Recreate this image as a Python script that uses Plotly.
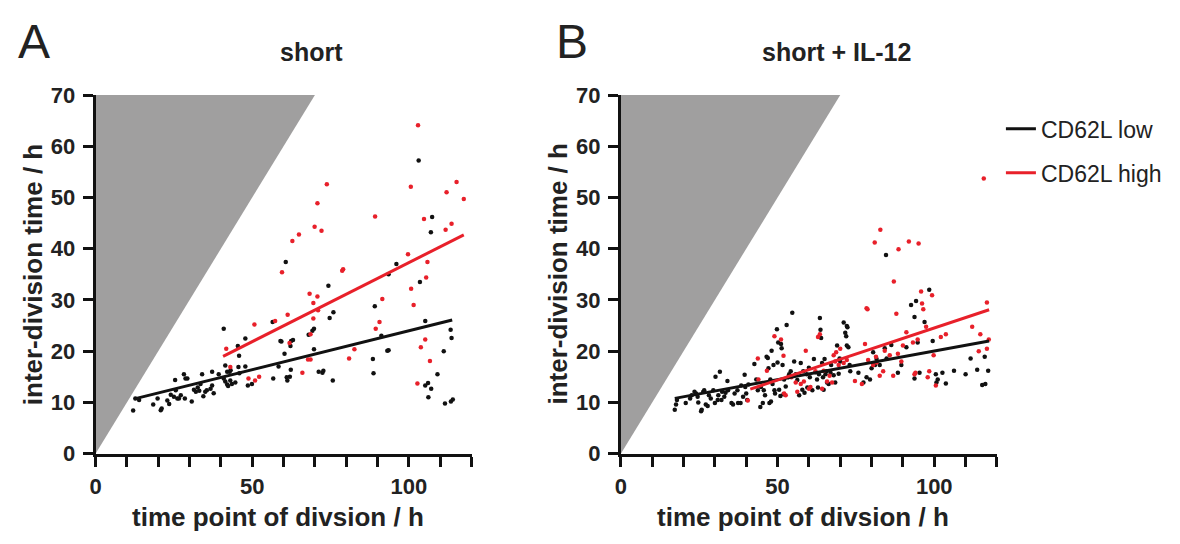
import plotly.graph_objects as go

# ---- panel A: "short" ----
a_low_x = [12.0, 13.9, 12.7, 18.4, 19.8, 20.8, 21.1, 22.9, 23.5, 24.0, 25.4, 25.0, 25.6, 26.1, 26.6,
           27.2, 28.2, 28.7, 29.3, 28.5, 30.7, 31.4, 32.0, 32.6, 33.1, 34.0, 33.5, 34.4, 35.0, 35.5,
           36.7, 37.2, 37.2, 37.7, 39.3, 40.9, 41.4, 42.0, 42.3, 40.9, 41.4, 42.0, 42.8, 43.1, 43.0,
           43.5, 44.6, 45.4, 45.6, 45.8, 45.9, 47.8, 47.8, 48.6, 49.9, 56.5, 56.7,
           103.1, 107.4, 107.0, 60.7, 96.0, 93.5, 103.5, 74.3, 89.1, 75.9, 74.7, 69.7, 69.2, 68.0,
           59.0, 59.3, 62.4, 63.0, 62.2, 60.3, 69.7, 91.2, 93.1, 93.5, 105.2, 113.3, 113.6, 111.1,
           88.5, 58.4, 61.0, 62.0, 61.2, 62.3, 71.2, 72.4, 72.7, 75.7, 88.7, 109.1, 105.2, 106.1,
           107.1, 106.2, 111.5, 113.4, 114.0]
a_low_y = [8.45, 10.5, 10.8, 9.6, 10.8, 8.5, 8.8, 10.4, 9.7, 11.5, 14.4, 11.1, 12.4, 10.8, 10.8,
           11.4, 15.5, 14.7, 14.7, 10.8, 10.2, 12.5, 12.1, 12.9, 12.3, 15.5, 13.6, 11.2, 12.1, 12.4,
           12.7, 13.3, 16.0, 11.8, 15.5, 14.7, 14.1, 13.5, 13.2, 24.4, 17.2, 16.0, 16.0, 16.3, 14.3,
           13.6, 13.9, 21.0, 16.9, 19.1, 15.7, 22.5, 17.0, 13.3, 13.6, 25.7, 14.7,
           57.2, 46.2, 43.2, 37.4, 37.0, 35.0, 33.5, 32.8, 28.8, 27.6, 26.5, 24.4, 24.0, 23.2,
           22.0, 21.9, 22.0, 22.2, 21.0, 19.5, 20.4, 23.0, 20.1, 20.2, 25.9, 24.2, 22.6, 20.0,
           18.5, 17.0, 14.9, 15.0, 14.3, 16.4, 16.0, 15.8, 16.2, 14.3, 15.7, 15.5, 13.3, 13.8,
           12.7, 11.0, 9.8, 10.2, 10.6]
a_high_x = [50.7, 41.7, 43.0, 48.8, 50.9, 52.2, 102.9, 73.8, 70.8, 69.9, 72.1, 64.9, 62.8, 59.5,
            61.3, 57.3, 89.2, 100.6, 104.8, 111.7, 113.6, 112.0, 115.2, 117.5, 99.7, 105.9, 105.5,
            100.7, 101.5, 91.5, 90.6, 89.4, 79.0, 78.7, 68.3, 70.8, 69.5, 71.0, 69.5, 68.6, 61.9,
            67.8, 68.6, 66.0, 82.6, 80.9, 105.2, 103.8, 106.7, 102.7]
a_high_y = [25.2, 20.5, 16.9, 14.7, 14.3, 15.0, 64.1, 52.6, 48.9, 44.3, 43.5, 42.8, 41.5, 35.4,
            27.1, 25.9, 46.3, 52.1, 45.8, 43.7, 44.9, 51.0, 53.0, 49.7, 38.9, 37.4, 34.4,
            32.2, 29.0, 30.2, 25.7, 24.4, 36.0, 35.7, 31.2, 30.7, 29.4, 28.0, 26.4, 23.3, 21.6,
            18.4, 18.4, 15.8, 20.4, 18.6, 22.3, 20.8, 18.1, 13.7]
a_fit_low_x, a_fit_low_y = [12.4, 113.8], [10.7, 26.1]
a_fit_high_x, a_fit_high_y = [40.7, 117.5], [19.0, 42.7]

# ---- panel B: "short + IL-12" ----
b_low_x = [17.2, 17.6, 17.9, 20.7, 22.1, 22.6, 23.5, 24.0, 24.5, 24.7, 25.6, 25.8, 26.3, 26.6,
           27.1, 27.7, 28.1, 28.7, 29.5, 30.0, 30.2, 30.9, 31.1, 31.6, 32.1, 32.3, 33.0, 33.4,
           34.0, 34.2, 35.3, 35.8, 36.3, 37.2, 37.4, 38.2, 38.4, 39.0, 39.5, 39.7, 40.0, 40.3,
           40.7, 42.6, 43.2, 43.7, 44.5, 44.7, 45.3, 45.6, 46.0, 46.5, 46.9, 47.1, 47.4, 47.7,
           47.9, 48.1, 48.4, 48.7, 49.0, 49.2, 49.8, 50.0, 50.2, 50.5, 50.9, 51.1, 51.3, 51.6,
           51.9, 52.1, 52.6, 52.9, 53.4, 53.7, 54.2, 54.7, 55.3, 55.8, 56.3, 56.9, 57.4, 57.9,
           58.2, 58.6, 59.3, 59.5, 60.0, 60.3, 61.1, 61.6, 62.1, 62.6, 62.9, 63.2, 63.5, 63.7,
           63.9, 64.2, 64.5, 64.7, 65.0, 65.3, 65.6, 65.8, 66.3, 66.9, 67.1, 67.9, 68.4, 69.0,
           69.5, 69.8, 70.0, 71.1, 71.6, 71.9, 72.1, 72.3, 72.6, 72.1, 73.0, 73.2,
           75.8, 77.4, 78.4, 79.5, 80.0, 80.5, 81.1, 81.6, 82.6, 84.2, 84.8, 86.3, 88.4, 89.5,
           91.1, 92.6, 93.7, 94.2, 94.7, 95.3, 93.7, 96.9, 98.4, 99.5, 100.5, 101.1, 100.7,
           102.6, 103.7, 106.3, 110.0, 111.6, 113.7, 115.3, 116.3, 117.2, 116.1, 84.6]
b_low_y = [8.6, 9.6, 10.5, 9.9, 10.8, 11.4, 12.1, 11.75, 11.1, 10.0, 8.3, 8.6, 12.1, 12.4,
           9.6, 9.3, 11.4, 10.8, 12.4, 9.9, 15.0, 10.5, 11.4, 16.0, 10.5, 12.1, 11.1, 11.9,
           14.2, 12.4, 9.9, 9.6, 11.75, 12.4, 9.9, 9.9, 13.3, 11.1, 15.4, 13.0, 11.75, 10.5,
           13.5, 17.5, 14.5, 12.4, 9.1, 13.0, 9.9, 12.4, 11.4, 18.9, 18.7, 16.7, 9.9, 14.5,
           10.2, 20.1, 13.6, 17.3, 12.4, 11.75, 24.3, 17.8, 21.7, 12.5, 11.25, 21.4, 20.6, 17.3,
           11.6, 14.5, 13.1, 25.1, 14.9, 15.5, 16.1, 27.5, 18.0, 15.5, 14.4, 11.4, 17.7, 12.5,
           16.1, 11.9, 15.5, 12.9, 16.8, 14.9, 12.4, 18.5, 15.9, 14.5, 12.9, 15.5, 26.5, 24.2,
           22.6, 17.7, 14.9, 12.5, 18.5, 15.5, 16.1, 13.9, 13.6, 15.8, 17.3, 15.3, 13.9, 21.1,
           15.6, 18.6, 18.0, 25.6, 23.6, 22.9, 24.9, 24.7, 20.8, 21.1, 17.3, 16.1,
           15.8, 13.9, 14.9, 14.5, 16.7, 19.8, 17.3, 18.5, 17.3, 20.6, 18.6, 21.2, 15.8, 17.3,
           20.8, 29.0, 26.7, 29.8, 21.7, 15.8, 14.7, 25.7, 32.0, 22.0, 15.5, 14.5, 13.9,
           15.8, 13.7, 16.2, 15.5, 18.6, 16.4, 13.4, 13.6, 16.2, 18.9, 38.8]
b_high_x = [40.5, 43.7, 43.9, 46.6, 49.0, 51.1, 51.9, 52.1, 52.6, 54.4, 55.8, 56.3, 57.4, 58.4,
            59.0, 60.0, 60.5, 62.1, 62.9, 63.5, 64.2, 64.7, 65.8, 66.6, 67.4, 67.9, 68.4, 68.7,
            69.5, 70.0, 71.1, 72.1, 74.7, 76.9, 77.9, 78.4, 78.7, 78.9, 80.5, 81.4, 81.6, 82.6,
            83.7, 84.2, 85.8, 86.9, 87.1, 87.9, 88.4, 89.5, 90.0, 91.1, 93.2, 93.7, 94.0, 94.7,
            95.8, 96.1, 96.5, 97.4, 97.9, 98.4, 99.3, 99.8, 100.5, 102.1, 103.7, 112.1, 114.2,
            114.7, 116.8, 117.4, 116.8, 82.8, 81.0, 88.6, 91.9, 95.0, 115.8]
b_high_y = [10.4, 18.6, 14.5, 16.2, 22.9, 22.3, 19.1, 11.75, 11.4, 14.9, 13.9, 12.1, 13.6, 14.1,
            20.1, 12.7, 13.0, 16.1, 22.8, 23.3, 12.7, 16.2, 14.1, 15.2, 13.9, 19.2, 18.0, 19.8,
            17.3, 20.5, 17.7, 18.3, 14.2, 13.6, 21.4, 28.4, 28.2, 18.3, 17.3, 18.9, 17.8, 15.2,
            16.1, 20.1, 19.2, 15.2, 33.6, 27.3, 19.5, 18.0, 21.1, 23.7, 21.7, 15.5, 15.8, 22.3,
            31.65, 29.3, 28.2, 24.8, 14.9, 16.1, 30.9, 19.2, 13.3, 22.8, 23.3, 24.8, 20.0,
            23.3, 29.5, 22.3, 20.5, 43.7, 41.2, 39.9, 41.4, 41.0, 53.7]
b_fit_low_x, b_fit_low_y = [17.2, 117.5], [10.8, 22.0]
b_fit_high_x, b_fit_high_y = [41.3, 117.5], [12.6, 28.1]

# region where the inter-division time would exceed the division time point
excluded_x = [0, 0, 70, 0]
excluded_y = [0, 70, 70, 0]

panel_titles = ["short", "short + IL-12"]
panel_letters = ["A", "B"]
series_names = ["CD62L low", "CD62L high"]
x_title = "time point of divsion / h"
y_title = "inter-division time / h"
x_tick_vals = list(range(0, 121, 10))
x_tick_text = [f"<b>{v}</b>" if v % 50 == 0 else "" for v in x_tick_vals]
y_tick_vals = list(range(0, 71, 10))
y_tick_text = [f"<b>{v}</b>" for v in y_tick_vals]

BLACK = "#111111"
RED = "#e8202a"
GREY = "#a09f9f"
TEXT = "#222222"
FONT = "Arial, Liberation Sans, sans-serif"

fig = go.Figure()

panels = [
    (a_low_x, a_low_y, a_high_x, a_high_y, a_fit_low_x, a_fit_low_y, a_fit_high_x, a_fit_high_y),
    (b_low_x, b_low_y, b_high_x, b_high_y, b_fit_low_x, b_fit_low_y, b_fit_high_x, b_fit_high_y),
]
for i, (lx, ly, hx, hy, flx, fly, fhx, fhy) in enumerate(panels):
    xa = "x" if i == 0 else "x2"
    ya = "y" if i == 0 else "y2"
    fig.add_trace(go.Scatter(x=excluded_x, y=excluded_y, fill="toself", fillcolor=GREY,
                             mode="none", hoverinfo="skip", showlegend=False, xaxis=xa, yaxis=ya))
    fig.add_trace(go.Scatter(x=lx, y=ly, mode="markers", marker=dict(color=BLACK, size=4.5),
                             showlegend=False, xaxis=xa, yaxis=ya))
    fig.add_trace(go.Scatter(x=hx, y=hy, mode="markers", marker=dict(color=RED, size=4.5),
                             showlegend=False, xaxis=xa, yaxis=ya))
    fig.add_trace(go.Scatter(x=flx, y=fly, mode="lines", line=dict(color=BLACK, width=3),
                             name=series_names[0], legendgroup="low", showlegend=(i == 1),
                             xaxis=xa, yaxis=ya))
    fig.add_trace(go.Scatter(x=fhx, y=fhy, mode="lines", line=dict(color=RED, width=3),
                             name=series_names[1], legendgroup="high", showlegend=(i == 1),
                             xaxis=xa, yaxis=ya))

axis_common = dict(showline=True, linecolor=BLACK, linewidth=2.8, ticks="outside",
                   ticklen=10, tickwidth=2.6, tickcolor=BLACK, showgrid=False, zeroline=False,
                   tickfont=dict(family=FONT, size=22, color=TEXT))
y_bottom, y_top = (544 - 463) / 544, (544 - 87) / 544
x_domains = [(90 / 1180, 468 / 1180), (618 / 1180, 996 / 1180)]

fig.update_layout(
    width=1180, height=544, margin=dict(l=0, r=0, t=0, b=0),
    paper_bgcolor="white", plot_bgcolor="white",
    font=dict(family=FONT, color=TEXT),
    xaxis=dict(domain=x_domains[0], range=[0, 120], tickvals=x_tick_vals, ticktext=x_tick_text,
               anchor="y", ticklabelstandoff=1, **axis_common),
    yaxis=dict(domain=[y_bottom, y_top], range=[0, 70], tickvals=y_tick_vals,
               ticktext=y_tick_text, anchor="x", ticklabelstandoff=3, **axis_common),
    xaxis2=dict(domain=x_domains[1], range=[0, 120], tickvals=x_tick_vals, ticktext=x_tick_text,
                anchor="y2", ticklabelstandoff=1, **axis_common),
    yaxis2=dict(domain=[y_bottom, y_top], range=[0, 70], tickvals=y_tick_vals,
                ticktext=y_tick_text, anchor="x2", ticklabelstandoff=3, **axis_common),
    legend=dict(x=1000 / 1180, y=1 - 100 / 544, xanchor="left", yanchor="top",
                font=dict(family=FONT, size=23, color=TEXT), bgcolor="rgba(0,0,0,0)",
                traceorder="grouped", tracegroupgap=11, itemwidth=30),
    showlegend=True,
)

annotations = []
letter_x = [28, 569]
for i in range(2):
    x0, x1 = x_domains[i]
    mid = (x0 + x1) / 2
    common = dict(xref="paper", yref="paper", showarrow=False, xanchor="center", yanchor="middle")
    annotations.append(dict(text=f"<b>{panel_titles[i]}</b>", x=mid + 28 / 1180, y=1 - 42 / 544,
                            font=dict(family=FONT, size=25, color=TEXT), **common))
    annotations.append(dict(text=f"<b>{x_title}</b>", x=mid - 6 / 1180, y=1 - 529 / 544,
                            font=dict(family=FONT, size=26, color=TEXT), **common))
    annotations.append(dict(text=f"<b>{y_title}</b>", x=x0 - 63 / 1180, y=(y_bottom + y_top) / 2,
                            textangle=-90, font=dict(family=FONT, size=26, color=TEXT), **common))
    annotations.append(dict(text=panel_letters[i], x=letter_x[i] / 1180, y=1 - 31 / 544,
                            font=dict(family=FONT, size=48, color=TEXT), **common))
fig.update_layout(annotations=annotations)

fig.write_html("out.html")
